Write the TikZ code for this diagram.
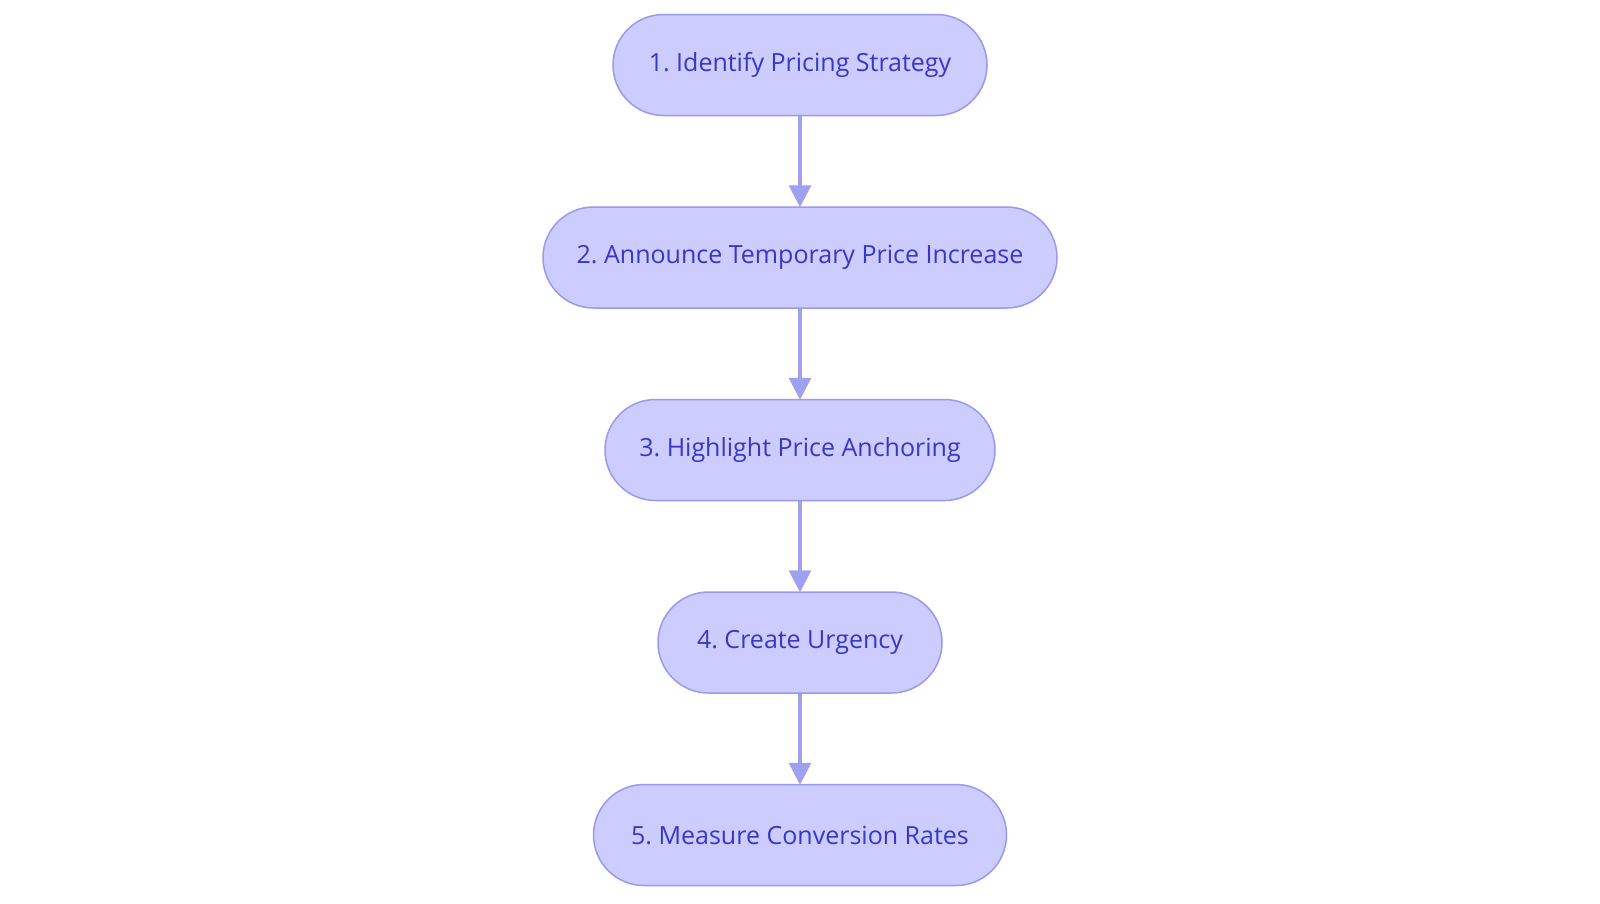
\documentclass[tikz,border=0pt]{standalone}
\usepackage{fontspec}
\setmainfont{Open Sans}
\usetikzlibrary{arrows.meta}
\definecolor{boxfill}{RGB}{204,204,255}
\definecolor{boxdraw}{RGB}{153,153,238}
\definecolor{boxtext}{RGB}{55,55,200}
\definecolor{arrowcol}{RGB}{160,160,240}
\tikzset{
  stage/.style={draw=boxdraw, fill=boxfill, line width=1.5pt, rounded corners=50.5pt,
    minimum height=101pt, inner sep=0pt, text=boxtext, font=\fontsize{25pt}{30pt}\selectfont},
  flow/.style={draw=arrowcol, line width=3.5pt, -{Triangle[length=22pt,width=22pt]}, shorten >=-1pt}
}
\begin{document}
\frenchspacing
\begin{tikzpicture}
\useasboundingbox (0pt,0pt) rectangle (1600pt,-903pt);
\node[stage, minimum width=374pt] (s1) at (800pt,-65pt) {1. Identify Pricing Strategy};
\node[stage, minimum width=514pt] (s2) at (800pt,-257.5pt) {2. Announce Temporary Price Increase};
\node[stage, minimum width=390pt] (s3) at (800pt,-450pt) {3. Highlight Price Anchoring};
\node[stage, minimum width=284pt] (s4) at (800pt,-642.5pt) {4. Create Urgency};
\node[stage, minimum width=413pt] (s5) at (800pt,-835pt) {5. Measure Conversion Rates};
\draw[flow] (s1) -- (s2);
\draw[flow] (s2) -- (s3);
\draw[flow] (s3) -- (s4);
\draw[flow] (s4) -- (s5);
\end{tikzpicture}
\end{document}
